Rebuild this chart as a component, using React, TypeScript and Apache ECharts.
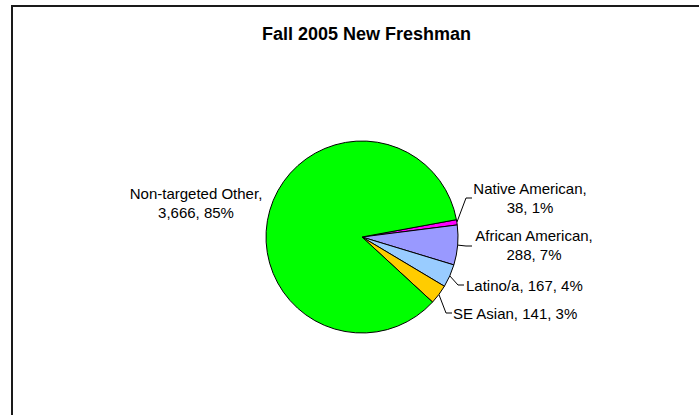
import React, { useEffect, useRef } from "react";
import * as echarts from "echarts";

const titleText = "Fall 2005 New Freshman";
const categories = ["Native American", "African American", "Latino/a", "SE Asian", "Non-targeted Other"];
const values = [38, 288, 167, 141, 3666];
const colors = ["#FF00FF", "#9999FF", "#99CCFF", "#FFCC00", "#00FF00"];

// Label placement (layout only): anchor position, alignment, whether the label wraps, leader-line end
const labelPlacement: Record<string, { x: number; y: number; align: string; wrap: boolean; lineEnd: number[] | null }> = {
  "Native American": { x: 530, y: 198, align: "center", wrap: true, lineEnd: [472, 198] },
  "African American": { x: 534, y: 245, align: "center", wrap: true, lineEnd: [472, 246] },
  "Latino/a": { x: 466, y: 285, align: "left", wrap: false, lineEnd: [464, 285] },
  "SE Asian": { x: 453, y: 313, align: "left", wrap: false, lineEnd: [452, 313] },
  "Non-targeted Other": { x: 196, y: 202.5, align: "center", wrap: true, lineEnd: null },
};

const FONT = '"Liberation Sans", Arial, Helvetica, sans-serif';

export default function App() {
  const ref = useRef<HTMLDivElement>(null);
  useEffect(() => {
    if (!ref.current) return;
    const chart = echarts.init(ref.current, null, { renderer: "svg" });
    const data = categories.map((name, i) => ({
      name,
      value: values[i],
      itemStyle: { color: colors[i] },
      labelLine: { show: labelPlacement[name].lineEnd !== null },
    }));
    chart.setOption({
      animation: false,
      backgroundColor: "#ffffff",
      title: {
        text: titleText,
        left: 257,
        top: 20,
        textStyle: { fontFamily: FONT, fontSize: 18, fontWeight: "bold", color: "#000" },
      },
      graphic: [
        {
          type: "rect",
          silent: true,
          z: -1,
          shape: { x: 12, y: 6, width: 800, height: 600 },
          style: { fill: "none", stroke: "#1a1a1a", lineWidth: 2 },
        },
      ],
      series: [
        {
          type: "pie",
          center: [362, 237],
          radius: 96,
          startAngle: 10.4,
          clockwise: true,
          avoidLabelOverlap: false,
          emphasis: { disabled: true },
          itemStyle: { borderColor: "#000", borderWidth: 1 },
          data,
          label: {
            show: true,
            position: "outside",
            fontFamily: FONT,
            fontSize: 15,
            lineHeight: 19,
            color: "#000",
            formatter: (p: any) => {
              const pct = Math.round(p.percent);
              const v = Number(p.value).toLocaleString("en-US");
              const sep = labelPlacement[p.name].wrap ? ",\n" : ", ";
              return `${p.name}${sep}${v}, ${pct}%`;
            },
          },
          labelLine: {
            show: true,
            length: 10,
            length2: 10,
            lineStyle: { color: "#000", width: 1 },
          },
          labelLayout: (params: any) => {
            const name = categories[params.dataIndex];
            const pl = labelPlacement[name];
            const res: any = { x: pl.x, y: pl.y, align: pl.align, verticalAlign: "middle" };
            const pts = params.labelLinePoints;
            if (pl.lineEnd && pts && pts[0]) {
              const start = pts[0];
              const elbow = [pl.lineEnd[0] - 6, pl.lineEnd[1]];
              res.labelLinePoints = [[start[0], start[1]], elbow, [pl.lineEnd[0], pl.lineEnd[1]]];
            }
            return res;
          },
        },
      ],
    });
    return () => chart.dispose();
  }, []);
  return (
    <div
      ref={ref}
      style={{ position: "fixed", left: 0, top: 0, width: 699, height: 415, background: "#fff" }}
    />
  );
}
